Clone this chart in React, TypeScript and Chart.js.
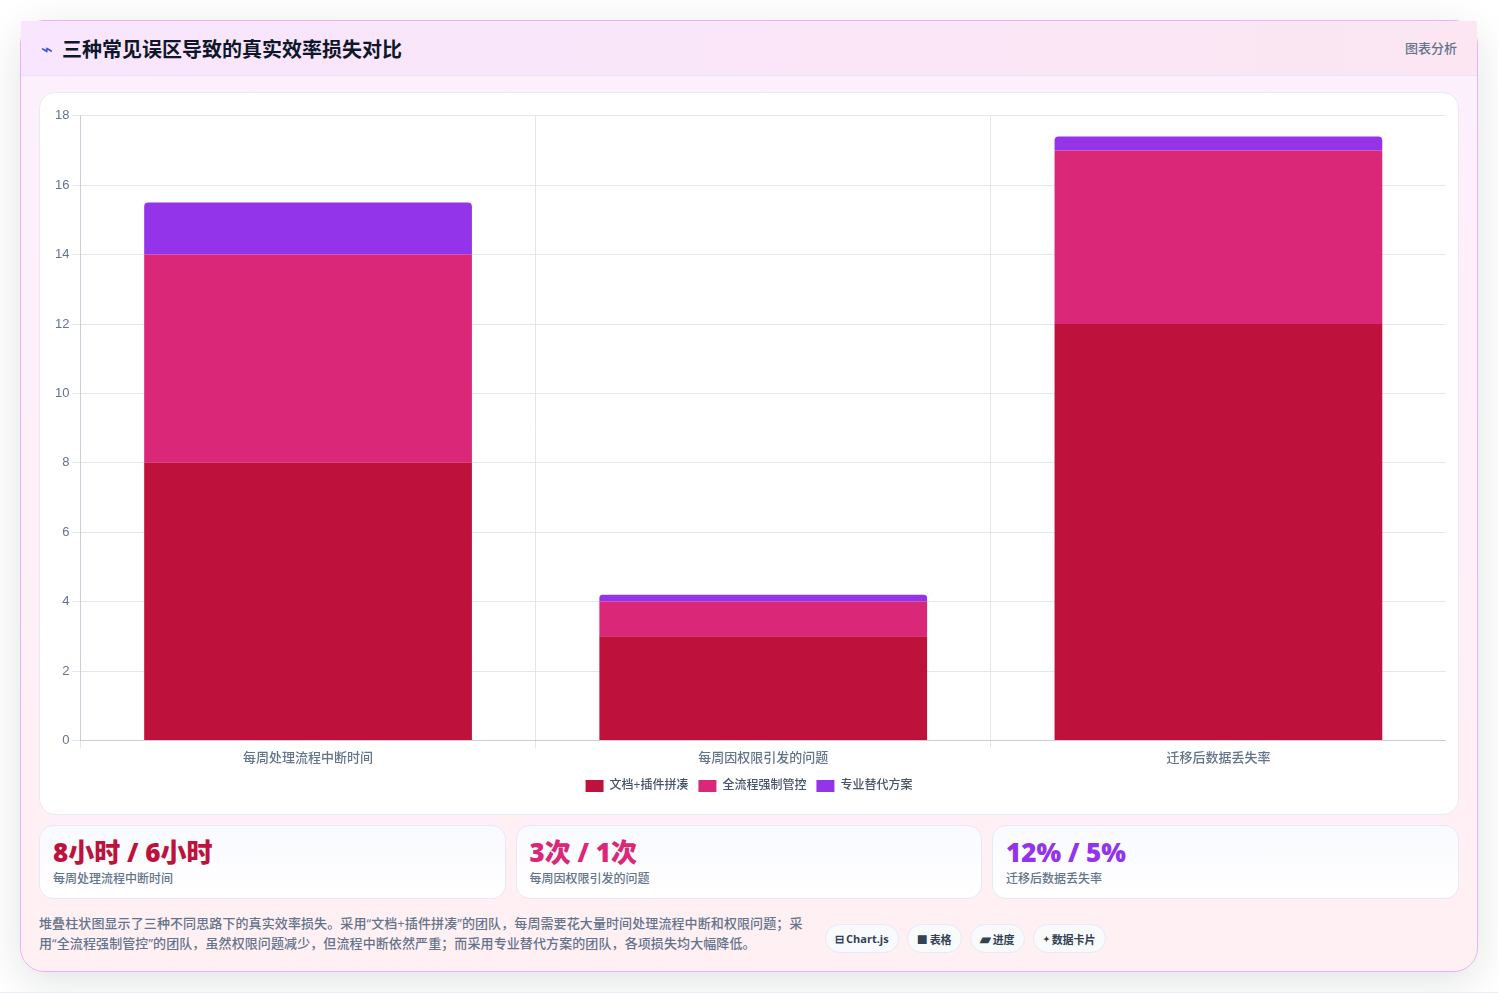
import React, { useEffect, useRef } from "react";
import { Chart, registerables } from "chart.js";

Chart.register(...registerables);

const categories = ["每周处理流程中断时间", "每周因权限引发的问题", "迁移后数据丢失率"];
const seriesNames = ["文档+插件拼凑", "全流程强制管控", "专业替代方案"];
const docsPlugins = [8, 3, 12];
const forcedControl = [6, 1, 5];
const proAlternative = [1.5, 0.2, 0.4];
const seriesColors = ["#be123c", "#db2777", "#9333ea"];
const statValues = ["8小时 / 6小时", "3次 / 1次", "12% / 5%"];
const statColors = ["#be123c", "#db2777", "#9333ea"];
const tagIcons = ["⊟", "■", "▰", "✦"];
const tagLabels = ["Chart.js", "表格", "进度", "数据卡片"];
const titleText = "三种常见误区导致的真实效率损失对比";
const noteText = "堆叠柱状图显示了三种不同思路下的真实效率损失。采用“文档+插件拼凑”的团队，每周需要花大量时间处理流程中断和权限问题；采用“全流程强制管控”的团队，虽然权限问题减少，但流程中断依然严重；而采用专业替代方案的团队，各项损失均大幅降低。";

const CJK = '"Open Sans", "Noto Sans CJK SC", sans-serif';
const TICK_FONT = '"Liberation Sans", "Noto Sans CJK SC", sans-serif';
const iconSizes = [11, 11, 14, 8];

export default function App() {
  const ref = useRef<HTMLCanvasElement>(null);
  useEffect(() => {
    document.body.style.margin = "0";
    document.body.style.background = "#fff";
    const values = [docsPlugins, forcedControl, proAlternative];
    const chart = new Chart(ref.current!, {
      type: "bar",
      data: {
        labels: categories,
        datasets: seriesNames.map((label, i) => ({
          label,
          data: values[i],
          backgroundColor: seriesColors[i],
          borderRadius: i === 2 ? { topLeft: 4, topRight: 4, bottomLeft: 0, bottomRight: 0 } : 0,
          borderSkipped: false,
        })),
      },
      options: {
        animation: false,
        responsive: false,
        maintainAspectRatio: false,
        layout: { padding: 0 },
        plugins: {
          legend: {
            position: "bottom",
            labels: {
              boxWidth: 18,
              boxHeight: 12,
              padding: 10,
              color: "#475569",
              font: { family: CJK, size: 12, weight: 500 },
            },
          },
          tooltip: { enabled: false },
        },
        scales: {
          x: {
            stacked: true,
            afterFit: (s: any) => { s.height += 2; },
            grid: { color: "#e1e7eb" },
            border: { color: "#c9cdd8" },
            ticks: { color: "#64748b", padding: 2, font: { family: CJK, size: 13, weight: 500 } },
          },
          y: {
            stacked: true,
            min: 0,
            max: 18,
            ticks: { stepSize: 2, color: "#64748b", font: { family: TICK_FONT, size: 13 } },
            grid: { color: "#e1e7eb" },
            border: { color: "#c9cdd8" },
          },
        },
      },
    });
    return () => chart.destroy();
  }, []);

  return (
    <div style={{ width: 1498, height: 993, position: "relative", overflow: "hidden", background: "#fff", fontFamily: CJK }}>
      <div
        style={{
          position: "absolute", left: 20, top: 20, width: 1458, height: 952, boxSizing: "border-box",
          borderRadius: 24, border: "1px solid #e9b3f2",
          background: "linear-gradient(180deg, #fdf0fe 0%, #fff0f3 100%)",
          boxShadow: "0 10px 40px rgba(15,23,42,0.12)",
        }}
      >
        <div
          style={{
            position: "absolute", left: 0, top: 0, right: 0, height: 55, boxSizing: "border-box",
            borderBottom: "1px solid #e8e3f7",
            background: "linear-gradient(90deg, #f9e6fe 0%, #fbe6f2 100%)",
          }}
        >
          <span style={{ position: "absolute", left: 20, top: 18, fontSize: 20, lineHeight: "20px", color: "#3b50d8", fontFamily: '"DejaVu Sans", sans-serif' }}>⌁</span>
          <span style={{ position: "absolute", left: 41, top: 15, fontSize: 20, lineHeight: "28px", fontWeight: 700, color: "#0f172a", whiteSpace: "nowrap" }}>{titleText}</span>
          <span style={{ position: "absolute", right: 20, top: 18, fontSize: 13, lineHeight: "18px", fontWeight: 500, color: "#64748b" }}>图表分析</span>
        </div>

        <div
          style={{
            position: "absolute", left: 18, top: 71, width: 1420, height: 723, boxSizing: "border-box",
            background: "#fff", border: "1px solid #e8ebf5", borderRadius: 16,
          }}
        >
          <canvas ref={ref} width={1394} height={697} style={{ position: "absolute", left: 12, top: 12, display: "block" }} />
        </div>

        {statValues.map((value, i) => (
          <div
            key={value}
            style={{
              position: "absolute", left: 18 + i * 476.5, top: 804, width: 466.5, height: 74, boxSizing: "border-box",
              border: "1px solid #e6e9f8", borderRadius: 14,
              background: "linear-gradient(180deg, #f9faff 0%, #ffffff 100%)",
            }}
          >
            <div style={{ position: "absolute", left: 13, top: 9, fontSize: 26, lineHeight: "34px", fontWeight: 800, color: statColors[i], whiteSpace: "nowrap" }}>{value}</div>
            <div style={{ position: "absolute", left: 13, top: 44, fontSize: 12, lineHeight: "17px", fontWeight: 500, color: "#64748b", whiteSpace: "nowrap" }}>{categories[i]}</div>
          </div>
        ))}

        <div style={{ position: "absolute", left: 18, top: 892, width: 768, fontSize: 13, lineHeight: "20px", fontWeight: 500, letterSpacing: "0.1px", color: "#64748b" }}>{noteText}</div>

        <div style={{ position: "absolute", left: 804, top: 903, display: "flex", gap: 8 }}>
          {tagLabels.map((t, i) => (
            <span
              key={t}
              style={{
                display: "flex", alignItems: "center", gap: 2, boxSizing: "border-box", height: 29, padding: "0 9px",
                border: "1px solid #e6e9f8", borderRadius: 15, background: "#f8fafc",
                fontSize: 11, fontWeight: 700, color: "#334155", whiteSpace: "nowrap",
              }}
            >
              <span style={{ fontSize: iconSizes[i] }}>{tagIcons[i]}</span>
              <span>{t}</span>
            </span>
          ))}
        </div>
      </div>
      <div style={{ position: "absolute", left: 0, right: 0, bottom: 0, height: 1, background: "#e8edf3" }} />
    </div>
  );
}
